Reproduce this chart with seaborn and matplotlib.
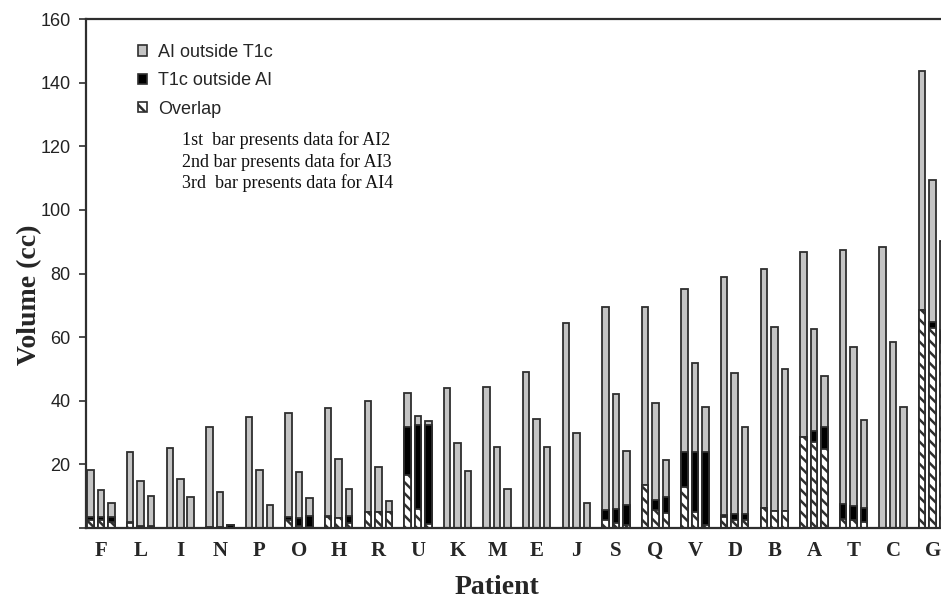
import matplotlib
matplotlib.use("Agg")
import matplotlib.pyplot as plt
from matplotlib.patches import Patch
import seaborn as sns
import pandas as pd

# ---------------- data ----------------
patients = ["F", "L", "I", "N", "P", "O", "H", "R", "U", "K", "M",
            "E", "J", "S", "Q", "V", "D", "B", "A", "T", "C", "G"]
versions = ["AI2", "AI3", "AI4"]

# total bar height (AI outside T1c + T1c outside AI + Overlap), cc
total_ai2 = [18.2, 24.0, 25.0, 31.9, 34.8, 36.0, 37.6, 40.0, 42.4, 43.9, 44.4,
             49.0, 64.4, 69.4, 69.4, 75.0, 79.0, 81.4, 86.9, 87.4, 88.3, 143.8]
total_ai3 = [12.0, 14.8, 15.3, 11.4, 18.2, 17.5, 21.6, 19.3, 35.3, 26.6, 25.6,
             34.2, 30.0, 42.1, 39.2, 51.8, 48.8, 63.1, 62.6, 56.8, 58.6, 109.4]
total_ai4 = [8.0, 10.2, 9.6, 1.0, 7.2, 9.5, 12.3, 8.5, 33.6, 18.0, 12.3,
             25.6, 7.8, 24.3, 21.4, 38.0, 31.7, 50.0, 47.8, 34.0, 38.0, 90.3]

# T1c outside AI, cc
t1c_ai2 = [1.0, 0.5, 0.0, 0.4, 0.0, 1.0, 0.3, 0.0, 15.0, 0.0, 0.0,
           0.0, 0.0, 3.2, 0.0, 11.0, 0.5, 0.0, 0.0, 4.6, 0.0, 0.0]
t1c_ai3 = [1.0, 0.4, 0.0, 0.2, 0.0, 2.8, 0.0, 0.0, 26.5, 0.0, 0.0,
           0.0, 0.0, 4.3, 3.1, 18.9, 1.8, 0.0, 3.3, 4.4, 0.0, 1.8]
t1c_ai4 = [1.6, 0.3, 0.0, 1.0, 0.0, 3.6, 2.4, 0.0, 31.1, 0.0, 0.0,
           0.0, 0.0, 6.3, 5.2, 23.0, 1.8, 0.0, 6.9, 4.4, 0.0, 4.3]

# Overlap, cc
overlap_ai2 = [2.5, 1.5, 0.0, 0.0, 0.0, 2.5, 3.6, 4.9, 16.7, 0.0, 0.0,
               0.0, 0.0, 2.5, 13.5, 13.0, 3.5, 6.4, 28.7, 2.9, 0.0, 68.6]
overlap_ai3 = [2.5, 0.3, 0.0, 0.0, 0.0, 0.5, 3.2, 4.9, 5.9, 0.0, 0.0,
               0.0, 0.0, 1.7, 5.7, 5.1, 2.5, 5.3, 27.1, 2.5, 0.0, 62.8]
overlap_ai4 = [2.0, 0.2, 0.0, 0.0, 0.0, 0.3, 1.5, 5.0, 1.3, 0.0, 0.0,
               0.0, 0.0, 0.9, 4.6, 1.0, 2.5, 5.3, 24.8, 2.0, 0.0, 58.0]

legend_labels = ["AI outside T1c", "T1c outside AI", "Overlap"]
notes = ["1st  bar presents data for AI2",
         "2nd bar presents data for AI3",
         "3rd  bar presents data for AI4"]

# ---------------- long table ----------------
rows = []
for v, tot, t1c, ov in zip(versions,
                           [total_ai2, total_ai3, total_ai4],
                           [t1c_ai2, t1c_ai3, t1c_ai4],
                           [overlap_ai2, overlap_ai3, overlap_ai4]):
    for p, a, b, c in zip(patients, tot, t1c, ov):
        rows.append({"patient": p, "version": v, "total": a,
                     "dark_top": b + c, "overlap": c})
df = pd.DataFrame(rows)

# ---------------- style ----------------
sns.set_style("white")
plt.rcParams["font.family"] = ["Liberation Sans", "DejaVu Sans"]
plt.rcParams["hatch.linewidth"] = 1.8
plt.rcParams["hatch.color"] = "#111111"

GRAY = "#c4c4c4"
EDGE = "#2e2e2e"
HATCH = "\\\\\\"

fig = plt.figure(figsize=(9.41, 6.0), dpi=100)
ax = fig.add_axes([86 / 941, 72 / 600, 855 / 941, 509 / 600])

common = dict(data=df, x="patient", hue="version", order=patients,
              hue_order=versions, dodge=True, width=0.795, gap=0.38,
              errorbar=None, saturation=1, legend=False, ax=ax,
              edgecolor=EDGE, linewidth=1.3)

sns.barplot(y="total", palette=[GRAY] * 3, **common)
sns.barplot(y="dark_top", palette=["#000000"] * 3, **common)
sns.barplot(y="overlap", palette=["#ffffff"] * 3, hatch=HATCH, **common)

# ---------------- axes ----------------
ax.set_xlim(-0.38, 21.21)
ax.set_ylim(0, 160)
ax.set_yticks(range(0, 161, 20))
ax.set_yticklabels([""] + [str(v) for v in range(20, 161, 20)])
ax.tick_params(axis="y", direction="out", length=5, width=1.2, color=EDGE,
               pad=6, labelsize=13, labelcolor="#222222", left=True)
ax.set_xticks(range(len(patients)))
ax.set_xticklabels(patients, fontfamily="Liberation Serif",
                   fontweight="bold", fontsize=15)
ax.tick_params(axis="x", length=0, pad=9)
ax.set_xlabel("")
ax.set_ylabel("")

for side in ["left", "bottom", "top"]:
    ax.spines[side].set_visible(True)
    ax.spines[side].set_color(EDGE)
    ax.spines[side].set_linewidth(1.6)
ax.spines["right"].set_visible(False)

fig.text(30 / 941, 1 - 295 / 600, "Volume (cc)", rotation=90,
         ha="center", va="center", fontfamily="Liberation Serif",
         fontweight="bold", fontsize=20)
fig.text(497 / 941, 1 - 587 / 600, "Patient", ha="center", va="center",
         fontfamily="Liberation Serif", fontweight="bold", fontsize=20)

# ---------------- legend ----------------
handles = [Patch(facecolor=GRAY, edgecolor=EDGE, linewidth=1.2),
           Patch(facecolor="#000000", edgecolor=EDGE, linewidth=1.2),
           Patch(facecolor="#ffffff", edgecolor=EDGE, linewidth=1.2,
                 hatch="\\\\")]
ax.legend(handles, legend_labels, loc="upper left",
          bbox_to_anchor=((138 - 86) / 855, (528 - 44) / 509),
          frameon=False, prop={"family": "Liberation Sans", "size": 13},
          handlelength=0.5, handleheight=0.5, handletextpad=0.6,
          labelspacing=0.63, borderpad=0, borderaxespad=0)

for i, t in enumerate(notes):
    ax.text((182 - 86) / 855, (528 - (140 + 21.7 * i)) / 509, t,
            transform=ax.transAxes, ha="left", va="center",
            fontfamily="Liberation Serif", fontsize=13, color="#111111")

fig.savefig("out.png", dpi=100)
